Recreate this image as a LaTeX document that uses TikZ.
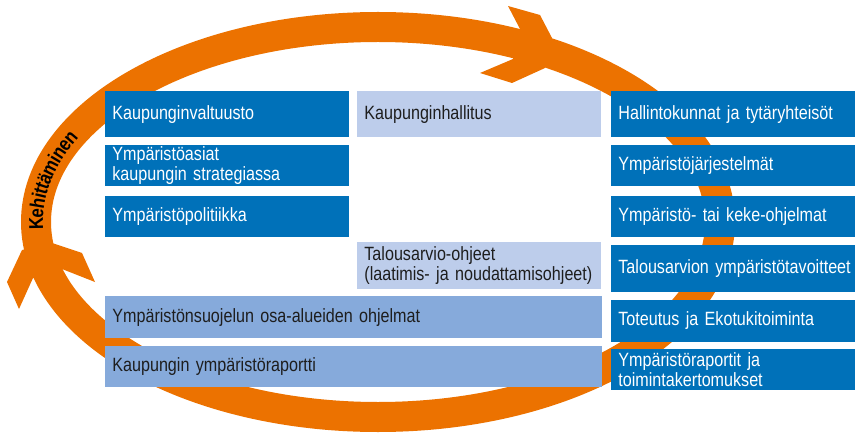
\documentclass[tikz,border=0pt]{standalone}
\usepackage{fontspec}
\setmainfont{Liberation Sans}[FakeStretch=0.84]
\newfontfamily\kehfont{Liberation Sans Bold}[FakeStretch=0.84]
\usepackage{tikz}
\usetikzlibrary{positioning,decorations.text}
\definecolor{myorange}{RGB}{236,114,0}
\definecolor{mydarkblue}{RGB}{0,113,185}
\definecolor{mylightblue}{RGB}{189,205,235}
\definecolor{mymidblue}{RGB}{134,170,219}
\definecolor{mytext}{RGB}{30,30,30}
\tikzstyle{box}=[rectangle,anchor=north west,inner xsep=3.5pt,inner ysep=0pt,text width=115pt,align=left,font=\fontsize{9.6}{8.6}\selectfont]

\begin{document}
\begin{tikzpicture}[
  x=0.5pt,y=0.5pt,
  darkbox/.style={box,fill=mydarkblue,text=white,minimum height=#1},
  lightbox/.style={box,fill=mylightblue,text=mytext,minimum height=#1},
  widebox/.style={box,fill=mymidblue,text=mytext,text width=241.5pt,minimum height=#1}
]
\useasboundingbox (0,0) rectangle (866,434);

% kehä ja nuolet
\draw[myorange,line width=15pt] (378,212) ellipse [x radius=171pt,y radius=97.5pt];
\fill[myorange] (520,405) -- (508,428) -- (540,419) -- (552,396) -- (545,366)
  -- (512,351) -- (480,361) -- (513,375) -- cycle;
\fill[myorange] (22,184) -- (7,152) -- (19,125) -- (33,156) -- (62,165)
  -- (95,152) -- (82,181) -- (52,191) -- cycle;
\path[decorate,decoration={text along path,
    text={|\kehfont\fontsize{10}{10}\selectfont|Kehittäminen},
    text align=center,raise=-3.5pt}]
  (378,212) ++(192:171pt and 97.5pt)
  arc[start angle=192,end angle=145,x radius=171pt,y radius=97.5pt];

% vasen sarake
\node[darkbox=23pt] (valtuusto) at (105,343) {Kaupunginvaltuusto};
\node[darkbox=20.5pt,below=3.5pt of valtuusto] (strategia)
  {Ympäristöasiat\\kaupungin strategiassa};
\node[darkbox=20.5pt,below=4.5pt of strategia] (politiikka) {Ympäristöpolitiikka};

% keskimmäinen sarake
\node[lightbox=23pt] (hallitus) at (357,343) {Kaupunginhallitus};
\node[lightbox=23.5pt] (ohjeet) at (357,192)
  {Talousarvio-ohjeet\\(laatimis- ja noudattamisohjeet)};

% leveät rivit
\node[widebox=21pt] (osaalueet) at (105,138) {Ympäristönsuojelun osa-alueiden ohjelmat};
\node[widebox=20.5pt,below=3.5pt of osaalueet] (raportti) {Kaupungin ympäristöraportti};

% oikea sarake
\node[darkbox=23pt] (hallinto) at (611,343) {Hallintokunnat ja tytäryhteisöt};
\node[darkbox=20.5pt,below=3.5pt of hallinto] (jarjestelmat) {Ympäristöjärjestelmät};
\node[darkbox=20.5pt,below=4.5pt of jarjestelmat] (keke) {Ympäristö- tai keke-ohjelmat};
\node[darkbox=23.5pt,below=3.5pt of keke] (tavoitteet) {\mbox{Talousarvion ympäristötavoitteet}};
\node[darkbox=21pt,below=3.5pt of tavoitteet] (toteutus) {Toteutus ja Ekotukitoiminta};
\node[darkbox=20.5pt,below=3.5pt of toteutus] (raportit)
  {Ympäristöraportit ja\\toimintakertomukset};

\end{tikzpicture}
\end{document}
